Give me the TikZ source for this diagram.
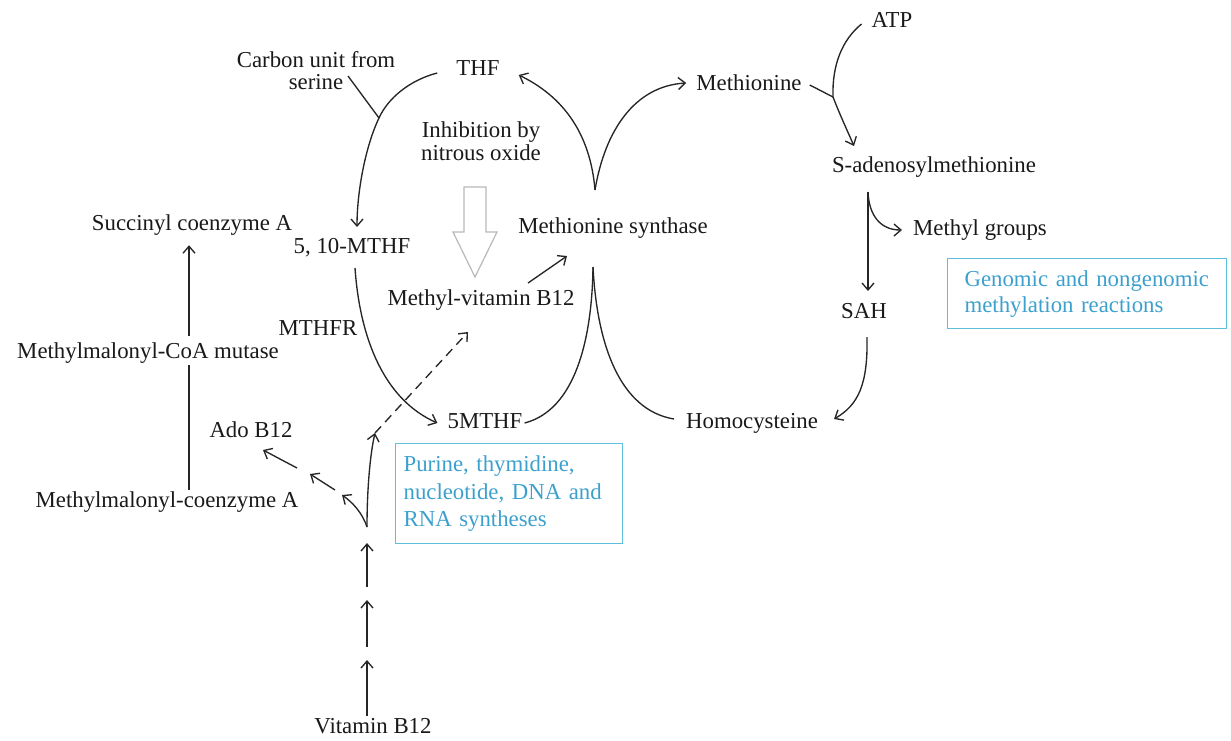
\documentclass[tikz,border=0pt]{standalone}
\usepackage{fontspec}
\setmainfont{Liberation Serif}
\usetikzlibrary{arrows.meta,calc}
\definecolor{boxblue}{RGB}{95,190,220}
\definecolor{txtblue}{RGB}{60,160,205}
\definecolor{hollowgray}{RGB}{185,185,185}
\begin{document}
\begin{tikzpicture}[x=1pt,y=-1pt,
  every node/.style={font=\fontsize{22.8}{23}\selectfont, inner sep=2pt, text=black!90},
  lbl/.style={text height=15pt, text depth=5pt},
  conn/.style={line width=1.35pt, draw=black!85},
  arr/.style={conn, -{Straight Barb[length=7pt,width=12pt,line width=1.35pt]}},
  dashline/.style={dash pattern=on 9pt off 6pt},
  bluebox/.style={draw=boxblue, line width=1.2pt, text=txtblue, align=left},
]
\useasboundingbox (0,0) rectangle (1231,740);

% ---------- nodes ----------
\node[lbl] (thf) at (478,70) {THF};
\node[align=center, font=\fontsize{22.8}{22}\selectfont] (carbon) at (316,71) {Carbon unit from\\serine};
\node[lbl] (met) at (749,85) {Methionine};
\node[lbl] (atp) at (892,22) {ATP};
\node[align=center, font=\fontsize{22.8}{23}\selectfont] (inh) at (481,141) {Inhibition by\\nitrous oxide};
\node[lbl] (sam) at (934,167) {S-adenosylmethionine};
\node[lbl] (succ) at (192,225) {Succinyl coenzyme A};
\node[lbl] (m510) at (352,248) {5, 10-MTHF};
\node[lbl] (ms) at (613,228) {Methionine synthase};
\node[lbl] (methyl) at (980,230) {Methyl groups};
\node[lbl] (mvb) at (481,300) {Methyl-vitamin B12};
\node[lbl] (sah) at (864,313) {SAH};
\node[lbl] (mthfr) at (318,330) {MTHFR};
\node[lbl] (mcm) at (148,353) {Methylmalonyl-CoA mutase};
\node[lbl] (ado) at (251,432) {Ado B12};
\node[lbl] (m5) at (485,423) {5MTHF};
\node[lbl] (hcy) at (752,423) {Homocysteine};
\node[lbl] (mmc) at (167,502) {Methylmalonyl-coenzyme A};
\node[lbl] (vb12) at (373,728) {Vitamin B12};

\node[bluebox, anchor=north west, text width=211pt, minimum height=100pt,
      inner xsep=8pt, font=\fontsize{22.8}{27.5}\selectfont] (purine) at (395,443)
      {Purine, thymidine,\\nucleotide, DNA and\\RNA syntheses};
\node[bluebox, anchor=north west, text width=245pt, minimum height=70pt,
      inner xsep=17pt, font=\fontsize{22.8}{26}\selectfont] (genomic) at (947,258)
      {Genomic and nongenomic\\methylation reactions};

% ---------- helper coordinates ----------
\coordinate (j1) at (379,118);
\coordinate (c1) at (348,76);
\coordinate (cusp1) at (595,190);
\coordinate (cusp2) at (593,267);
\coordinate (mv1) at (528,283);
\coordinate (ms1) at (567,256);
\coordinate (d1) at (375,433);
\coordinate (d2) at (468,332);
\coordinate (j2) at (367,527);
\coordinate (s1) at (868,192);
\coordinate (mj) at (833,97);

% ---------- folate cycle ----------
\draw[arr] ($(thf.west)+(-17,3)$) .. controls (410,80) and (388,98) .. (j1)
           .. controls (366,145) and (357,190) .. (357,227);
\draw[conn] (c1) -- (j1);
\draw[arr] (cusp1) .. controls (590,130) and (560,95) .. ($(thf.east)+(17,5)$);
\draw[arr] (cusp1) .. controls (605,130) and (635,86) .. ($(met.west)+(-8,-2)$);
\draw[conn] (cusp2) .. controls (592,340) and (575,410) .. (m5.east);
\draw[conn] (cusp2) .. controls (597,345) and (620,410) .. ($(hcy.west)+(-10,-4)$);
\draw[arr] (mv1) -- (ms1);
\draw[arr] (355,268) .. controls (360,340) and (385,400) .. ($(m5.west)+(-8,0)$);

% hollow inhibition arrow
\draw[hollowgray, line width=1.2pt, fill=white]
  (464,187) -- (486,187) -- (486,232) -- (497,232) -- (475,277) -- (453,232) -- (464,232) -- cycle;

% ---------- vitamin B12 ----------
\draw[arr] (vb12.north -| j2) -- (367,660);
\draw[arr] (367,647) -- (367,600);
\draw[arr] (367,587) -- (367,543);
\draw[arr] (j2) .. controls (367,490) and (370,455) .. (d1);
\draw[arr, dashline] (d1) -- (d2);
\draw[arr] (j2) .. controls (362,512) and (352,502) .. (342,495);
\draw[arr] (335,490) -- (310,474);
\draw[arr] (297,468) -- (263,450);

% ---------- methylmalonyl ----------
\draw[conn] ($(mmc.north)+(22,0)$) -- ($(mcm.south)+(41,0)$);
\draw[arr] ($(mcm.north)+(41,-5)$) -- ($(succ.south)+(-3,8)$);

% ---------- methionine cycle ----------
\draw[conn] ($(atp.west)+(-8,2)$) .. controls (842,40) and (832,65) .. (mj);
\draw[conn] ($(met.east)+(6,0)$) -- (mj);
\draw[arr] (mj) .. controls (840,115) and (847,130) .. (854,146);
\draw[arr] (s1) -- (868,291);
\draw[arr] (s1) .. controls (869,215) and (880,230) .. ($(methyl.west)+(-9,0)$);
\draw[arr] (867,337) .. controls (868,385) and (858,405) .. ($(hcy.east)+(14,-4)$);
\end{tikzpicture}
\end{document}
